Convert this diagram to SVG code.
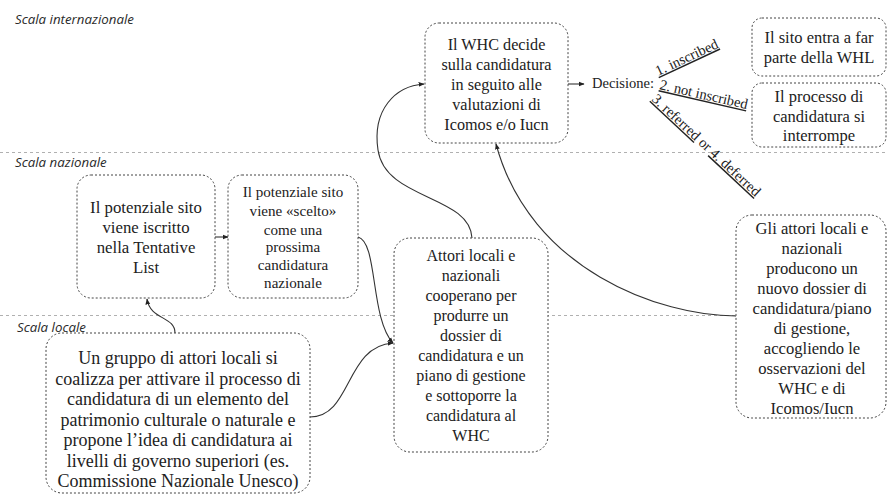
<svg xmlns="http://www.w3.org/2000/svg" width="888" height="497" viewBox="0 0 888 497">
<defs>
<marker id="arr" viewBox="0 0 10 10" refX="9" refY="5" markerWidth="6" markerHeight="6" orient="auto" markerUnits="userSpaceOnUse">
<path d="M0,1 L10,5 L0,9 z" fill="#222"/>
</marker>
<style>
.box{fill:#fff;stroke:#444;stroke-width:1;stroke-dasharray:2 2}
.t{font-family:"Liberation Serif","Times New Roman",serif;fill:#222;text-anchor:middle}
.lbl{font-family:"Liberation Serif","Times New Roman",serif;fill:#222;font-size:14.5px}
.scala{font-family:"Open Sans","Liberation Sans",sans-serif;font-style:italic;font-size:13.3px;fill:#2a2a2a}
.div{stroke:#b0b0b0;stroke-width:1;stroke-dasharray:3 3}
.c{fill:none;stroke:#333;stroke-width:1.1}
</style>
</defs>
<rect width="888" height="497" fill="#fff"/>
<g id="dividers">
<line class="div" x1="0" y1="152.5" x2="888" y2="152.5"/>
<line class="div" x1="0" y1="315.5" x2="888" y2="315.5"/>
</g>
<g id="scales">
<text class="scala" x="15" y="24">Scala internazionale</text>
<text class="scala" x="15" y="167">Scala nazionale</text>
<text class="scala" x="17" y="332">Scala locale</text>
</g>
<g id="connectors">
<path class="c" d="M175,333 C175,316 150,320 147,299" marker-end="url(#arr)"/>
<path class="c" d="M215,237 L228,237" marker-end="url(#arr)"/>
<path class="c" d="M310,417 C352,417 345,346 393,343" marker-end="url(#arr)"/>
<path class="c" d="M358,237 C378,242 370,318 393,343" marker-end="url(#arr)"/>
<path class="c" d="M472,238 C470,195 385,200 378,150 C372,110 395,86 424,84" marker-end="url(#arr)"/>
<path class="c" d="M736,316 C660,316 530,270 496,144" marker-end="url(#arr)"/>
<path class="c" d="M568,84 L584,84" marker-end="url(#arr)"/>
</g>
<g id="decision">
<text class="lbl" x="592" y="88">Decisione:</text>
<text class="lbl" transform="translate(658,76) rotate(-25)" text-decoration="underline">1. inscribed</text>
<text class="lbl" transform="translate(659,89) rotate(13)" text-decoration="underline">2. not inscribed</text>
<text class="lbl" transform="translate(651,100) rotate(43)"><tspan text-decoration="underline">3. referred</tspan> or <tspan text-decoration="underline">4. deferred</tspan></text>
</g>
<g id="node-whc">
<rect class="box" x="425" y="23" width="143" height="120" rx="14"/>
<text class="t" font-size="16.2"><tspan x="496.5" y="50">Il WHC decide</tspan><tspan x="496.5" y="70">sulla candidatura</tspan><tspan x="496.5" y="90">in seguito alle</tspan><tspan x="496.5" y="110">valutazioni di</tspan><tspan x="496.5" y="130">Icomos e/o Iucn</tspan></text>
</g>
<g id="node-whl">
<rect class="box" x="752" y="18" width="134" height="58" rx="10"/>
<text class="t" font-size="16.5"><tspan x="819" y="43">Il sito entra a far</tspan><tspan x="819" y="63">parte della WHL</tspan></text>
</g>
<g id="node-interrompe">
<rect class="box" x="752" y="83" width="134" height="64" rx="10"/>
<text class="t" font-size="16.5"><tspan x="819" y="102">Il processo di</tspan><tspan x="819" y="122">candidatura si</tspan><tspan x="819" y="141">interrompe</tspan></text>
</g>
<g id="node-tentative">
<rect class="box" x="77" y="175" width="138" height="123" rx="14"/>
<text class="t" font-size="16.8"><tspan x="146" y="213">Il potenziale sito</tspan><tspan x="146" y="233">viene iscritto</tspan><tspan x="146" y="253">nella Tentative</tspan><tspan x="146" y="273">List</tspan></text>
</g>
<g id="node-scelto">
<rect class="box" x="228" y="175" width="130" height="123" rx="14"/>
<text class="t" font-size="15.1"><tspan x="293" y="197">Il potenziale sito</tspan><tspan x="293" y="216">viene «scelto»</tspan><tspan x="293" y="235">come una</tspan><tspan x="293" y="252">prossima</tspan><tspan x="293" y="270">candidatura</tspan><tspan x="293" y="288">nazionale</tspan></text>
</g>
<g id="node-locale">
<rect class="box" x="46" y="333" width="264" height="160" rx="16"/>
<text class="t" font-size="18"><tspan x="178" y="364">Un gruppo di attori locali si</tspan><tspan x="178" y="384.5">coalizza per attivare il processo di</tspan><tspan x="178" y="405">candidatura di un elemento del</tspan><tspan x="178" y="425.5">patrimonio culturale o naturale e</tspan><tspan x="178" y="446">propone l’idea di candidatura ai</tspan><tspan x="178" y="466.5">livelli di governo superiori (es.</tspan><tspan x="178" y="487">Commissione Nazionale Unesco)</tspan></text>
</g>
<g id="node-dossier">
<rect class="box" x="394" y="238" width="154" height="214" rx="16"/>
<text class="t" font-size="16"><tspan x="471" y="261">Attori locali e</tspan><tspan x="471" y="281">nazionali</tspan><tspan x="471" y="301">cooperano per</tspan><tspan x="471" y="321">produrre un</tspan><tspan x="471" y="341">dossier di</tspan><tspan x="471" y="361">candidatura e un</tspan><tspan x="471" y="381">piano di gestione</tspan><tspan x="471" y="401">e sottoporre la</tspan><tspan x="471" y="421">candidatura al</tspan><tspan x="471" y="441">WHC</tspan></text>
</g>
<g id="node-nuovo">
<rect class="box" x="736" y="215" width="150" height="203" rx="16"/>
<text class="t" font-size="16.6"><tspan x="812" y="234">Gli attori locali e</tspan><tspan x="812" y="254">nazionali</tspan><tspan x="812" y="274">producono un</tspan><tspan x="812" y="294">nuovo dossier di</tspan><tspan x="812" y="314">candidatura/piano</tspan><tspan x="812" y="334">di gestione,</tspan><tspan x="812" y="354">accogliendo le</tspan><tspan x="812" y="374">osservazioni del</tspan><tspan x="812" y="394">WHC e di</tspan><tspan x="812" y="414">Icomos/Iucn</tspan></text>
</g>
</svg>
